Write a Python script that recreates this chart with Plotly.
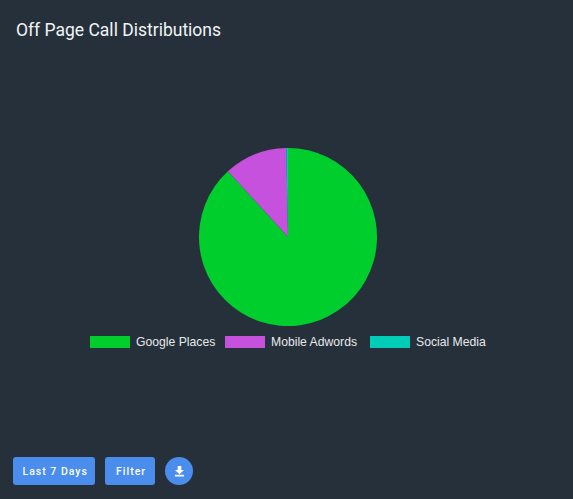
import plotly.graph_objects as go

categories = ["Google Places", "Mobile Adwords", "Social Media"]
values = [88.2, 11.5, 0.3]
colors = ["#00CE2D", "#C551DC", "#00CDB7"]
title_text = "Off Page Call Distributions"
button_labels = ["Last 7 Days", "Filter"]

W, H = 573, 499
BG = "#26303B"
BTN = "#4A8DEC"


def px(x):
    return x / W


def py(y):
    return 1 - y / H


def rrect(x0, y0, x1, y1, r):
    return (f"M{px(x0+r)},{py(y0)} L{px(x1-r)},{py(y0)} Q{px(x1)},{py(y0)} {px(x1)},{py(y0+r)} "
            f"L{px(x1)},{py(y1-r)} Q{px(x1)},{py(y1)} {px(x1-r)},{py(y1)} L{px(x0+r)},{py(y1)} "
            f"Q{px(x0)},{py(y1)} {px(x0)},{py(y1-r)} L{px(x0)},{py(y0+r)} Q{px(x0)},{py(y0)} {px(x0+r)},{py(y0)} Z")


fig = go.Figure(go.Pie(
    labels=categories, values=values, sort=False, direction="clockwise", rotation=0,
    marker=dict(colors=colors, line=dict(width=0)), textinfo="none", hoverinfo="label+percent",
    domain=dict(x=[px(199), px(377)], y=[py(326), py(148)]),
))

shapes = []
annotations = [dict(text=title_text, x=px(16), y=py(30), xref="paper", yref="paper", xanchor="left",
                    yanchor="middle", showarrow=False, borderpad=0, borderwidth=0,
                    font=dict(family="Roboto", size=17.5, color="#F2F4F5"))]

# legend
for name, color, sx, tx in zip(categories, colors, [90, 225, 370], [136, 271, 416]):
    shapes.append(dict(type="rect", xref="paper", yref="paper", x0=px(sx), x1=px(sx + 40),
                       y0=py(348), y1=py(336), fillcolor=color, line=dict(width=0)))
    annotations.append(dict(text=name, x=px(tx), y=py(342), xref="paper", yref="paper", xanchor="left",
                            yanchor="middle", showarrow=False, borderpad=0, borderwidth=0,
                            font=dict(family="Liberation Sans", size=12.2, color="#E6E8EA")))

# buttons
for label, (x0, x1) in zip(button_labels, [(13, 95), (105, 155)]):
    shapes.append(dict(type="path", xref="paper", yref="paper", path=rrect(x0, 457, x1, 485, 3),
                       fillcolor=BTN, line=dict(width=0)))
    annotations.append(dict(text=label, x=px((x0 + x1) / 2 + 0.5), y=py(471), xref="paper", yref="paper",
                            xanchor="center", yanchor="middle", showarrow=False,
                            font=dict(family="Roboto", size=10.5, color="#FFFFFF", weight=500)))

shapes.append(dict(type="circle", xref="paper", yref="paper", x0=px(165), x1=px(193), y0=py(485), y1=py(457),
                   fillcolor=BTN, line=dict(width=0)))
shapes.append(dict(type="path", xref="paper", yref="paper", fillcolor="#FFFFFF", line=dict(width=0),
                   path=(f"M{px(177.7)},{py(466)} L{px(181.3)},{py(466)} L{px(181.3)},{py(470)} L{px(184)},{py(470)} "
                         f"L{px(179.5)},{py(474.2)} L{px(175)},{py(470)} L{px(177.7)},{py(470)} Z "
                         f"M{px(175)},{py(474.8)} L{px(184)},{py(474.8)} L{px(184)},{py(476.5)} L{px(175)},{py(476.5)} Z")))

fig.update_layout(width=W, height=H, margin=dict(l=0, r=0, t=0, b=0), paper_bgcolor=BG, plot_bgcolor=BG,
                  showlegend=False, shapes=shapes, annotations=annotations)

fig.write_html("out.html", config=dict(displayModeBar=False),
               post_script="""
document.body.style.margin='0';
document.querySelectorAll('.annotation-text').forEach(function(t){
  if(t.textContent==='Last 7 Days'||t.textContent==='Filter'){t.style.letterSpacing='1px';}
});
""")
